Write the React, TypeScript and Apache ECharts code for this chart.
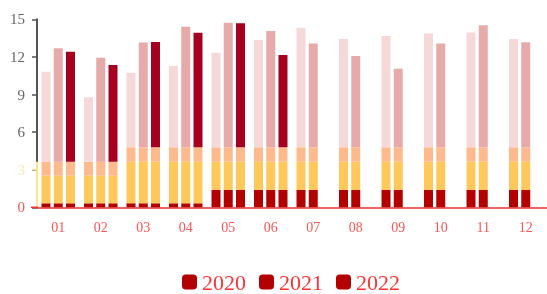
import React, { useEffect, useRef } from "react";
import * as echarts from "echarts";

const months = ["01", "02", "03", "04", "05", "06", "07", "08", "09", "10", "11", "12"];
const years = ["2020", "2021", "2022"];

// Bar totals per year
const total2020 = [10.82, 8.78, 10.74, 11.28, 12.34, 13.35, 14.33, 13.43, 13.67, 13.86, 13.94, 13.43];
const total2021 = [12.69, 11.94, 13.14, 14.41, 14.73, 14.07, 13.06, 12.07, 11.06, 13.06, 14.53, 13.17];
const total2022 = [12.42, 11.36, 13.19, 13.93, 14.68, 12.15, null, null, null, null, null, null];

// Band boundaries per month (cumulative)
const redTop = [0.32, 0.32, 0.32, 0.32, 1.38, 1.38, 1.38, 1.38, 1.38, 1.38, 1.38, 1.38];
const yellowTop = [2.52, 2.52, 3.64, 3.64, 3.64, 3.64, 3.64, 3.64, 3.64, 3.64, 3.64, 3.64];
const orangeTop = [3.64, 3.64, 4.79, 4.79, 4.79, 4.79, 4.79, 4.79, 4.79, 4.79, 4.79, 4.79];

const yTicks = [0, 3, 6, 9, 12, 15];

const totals: Record<string, (number | null)[]> = {
  "2020": total2020,
  "2021": total2021,
  "2022": total2022,
};
const topColors: Record<string, string> = {
  "2020": "#f5d9d9",
  "2021": "#e7aaaa",
  "2022": "#a5001f",
};
const RED = "#b30000";
const YELLOW = "#fec85a";
const ORANGE = "#fdba8c";

const round = (v: number) => Math.round(v * 100) / 100;

export default function App() {
  const ref = useRef<HTMLDivElement>(null);
  useEffect(() => {
    if (!ref.current) return;
    const chart = echarts.init(ref.current, null, { renderer: "svg" });
    const series: any[] = [];
    years.forEach((yr) => {
      const tot = totals[yr];
      const mk = (name: string, color: string, f: (i: number, t: number) => number) => ({
        name,
        type: "bar",
        stack: "s" + yr,
        barWidth: 9,
        barGap: "36%",
        itemStyle: { color },
        data: tot.map((t, i) => (t == null ? null : round(f(i, t)))),
      });
      series.push(mk(yr + "-a", RED, (i) => redTop[i]));
      series.push(mk(yr + "-b", YELLOW, (i) => yellowTop[i] - redTop[i]));
      series.push(mk(yr + "-c", ORANGE, (i) => orangeTop[i] - yellowTop[i]));
      series.push(mk(yr, topColors[yr], (i, t) => t - orangeTop[i]));
    });

    chart.setOption({
      animation: false,
      textStyle: { fontFamily: "Liberation Serif" },
      grid: { left: 37, right: 0, top: 19.3, bottom: 86.7, containLabel: false },
      legend: {
        data: years.map((y) => ({ name: y, itemStyle: { color: RED } })),
        left: 177,
        top: 266,
        padding: 5,
        icon: "roundRect",
        itemWidth: 15,
        itemHeight: 15,
        itemGap: 13,
        textStyle: { fontSize: 22, color: "#f33", fontFamily: "Liberation Serif", lineHeight: 22 },
      },
      xAxis: {
        type: "category",
        data: months,
        axisLine: { lineStyle: { color: "#e83030", width: 1.5 } },
        axisTick: { length: 6, lineStyle: { color: "#e83030", width: 1.5 } },
        axisLabel: { fontSize: 14, color: "#f55", margin: 13, fontFamily: "Liberation Serif" },
      },
      yAxis: {
        type: "value",
        min: 0,
        max: 15,
        interval: 3,
        splitLine: { show: false },
        axisLine: { show: true, lineStyle: { color: "#555", width: 2 } },
        axisTick: { show: true, length: 5, lineStyle: { color: "#555", width: 1.5 } },
        axisLabel: {
          fontSize: 15,
          margin: 12,
          fontFamily: "Liberation Serif",
          color: (v: any) => {
            const n = Number(v);
            if (n === yTicks[0]) return "#f55";
            if (n === yTicks[1]) return "#fbe8b4";
            return "#666";
          },
        },
      },
      series,
    });

    const ax = 37;
    const y0 = chart.convertToPixel({ yAxisIndex: 0 }, 0) as number;
    const y3 = chart.convertToPixel({ yAxisIndex: 0 }, 3) as number;
    const yB = chart.convertToPixel({ yAxisIndex: 0 }, orangeTop[0]) as number;
    chart.setOption({
      graphic: [
        { type: "line", shape: { x1: ax, y1: yB, x2: ax, y2: y0 }, style: { stroke: "#ffe48a", lineWidth: 2 }, z: 100 },
        { type: "line", shape: { x1: ax - 5, y1: y3, x2: ax, y2: y3 }, style: { stroke: "#fbe3a0", lineWidth: 1.5 }, z: 100 },
        { type: "line", shape: { x1: ax - 6, y1: y0, x2: ax + 1, y2: y0 }, style: { stroke: "#e83030", lineWidth: 1.5 }, z: 100 },
      ],
    });

    return () => chart.dispose();
  }, []);
  return <div ref={ref} style={{ position: "fixed", left: 0, top: 0, width: 547, height: 294 }} />;
}
